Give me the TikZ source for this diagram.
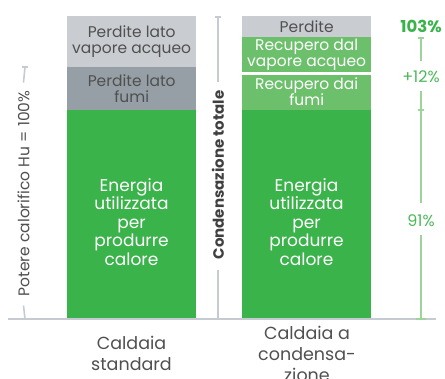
\documentclass[tikz,border=0pt]{standalone}
\usepackage{fontspec}
\setmainfont{Poppins}
\definecolor{gmain}{HTML}{3AB34A}
\definecolor{glight}{HTML}{6CC06B}
\definecolor{grayl}{HTML}{C9CDD2}
\definecolor{grayd}{HTML}{959FA5}
\definecolor{txt}{HTML}{505050}
\definecolor{axis}{HTML}{C5CBD1}
\definecolor{gaxis}{HTML}{9DD49A}
\definecolor{gtxt}{HTML}{4DB85A}
\begin{document}
\begin{tikzpicture}[x=1pt,y=-1pt,
  seg/.style={draw=none,inner sep=0pt,anchor=north west,align=center,font=\fontsize{15.5}{16.5}\selectfont},
  bigtxt/.style={align=center,text=white,font=\fontsize{17}{18.5}\selectfont},
  captxt/.style={align=center,text=txt,font=\fontsize{17.5}{21}\selectfont},
  ax/.style={draw=axis,line width=1.6pt},
  gax/.style={draw=gaxis,line width=1.6pt},
  axlbl/.style={rotate=90,text=txt,font=\fontsize{15.5}{15}\selectfont,inner sep=0pt}]
\useasboundingbox (0,0) rectangle (445,378);
% left bar
\node[seg,fill=grayl,text=txt,minimum width=129pt,minimum height=51pt] (lvap) at (67,16) {Perdite lato\\vapore acqueo};
\node[seg,fill=grayd,text=txt,minimum width=129pt,minimum height=43pt] (lfum) at (67,67) {Perdite lato\\fumi};
\node[seg,fill=gmain,minimum width=129pt,minimum height=208pt] (lgreen) at (67,110) {};
\node[bigtxt] (ltxt) at (131.5,222) {Energia\\utilizzata\\per\\produrre\\calore};
% right bar
\node[seg,fill=grayl,text=txt,minimum width=129pt,minimum height=21pt] (rper) at (242,16) {Perdite};
\node[seg,fill=glight,text=white,minimum width=129pt,minimum height=35pt] (rvap) at (242,37) {Recupero dal\\vapore acqueo};
\node[seg,fill=glight,text=white,minimum width=129pt,minimum height=37pt] (rfum) at (242,73) {Recupero dai\\fumi};
\fill[white] (rvap.south west) rectangle ([yshift=-2pt]rfum.north east);
\node[seg,fill=gmain,minimum width=129pt,minimum height=208pt] (rgreen) at (242,110) {};
\node[bigtxt] (rtxt) at (306.5,222) {Energia\\utilizzata\\per\\produrre\\calore};
% baseline
\coordinate (b0) at (8,319);
\coordinate (b1) at (436,319);
\draw[draw=axis,line width=1.4pt] (b0) -- (b1);
% left axis
\coordinate (la) at (25,67);
\coordinate (lb) at (25,319);
\node[axlbl] (ll) at (23.5,193.5) {Potere calorifico Hu = 100\%};
\draw[ax] (la) -- ([yshift=8pt]ll.east);
\draw[ax] ([xshift=-3pt]la) -- ([xshift=3pt]la);
\draw[ax] ([yshift=-9pt]ll.west) -- (lb);
% middle axis
\coordinate (ma) at (218,17);
\coordinate (mb) at (218,319);
\node[axlbl,font=\fontsize{15}{15}\selectfont\bfseries,text=txt!80!black] (ml) at (218,175) {Condensazione totale};
\draw[ax] (ma) -- ([yshift=8pt]ml.east);
\draw[ax] ([xshift=-3pt]ma) -- ([xshift=3pt]ma);
\draw[ax] ([yshift=-10pt]ml.west) -- (mb);
% right axis
\node[text=gmain,font=\fontsize{16.5}{16}\selectfont\bfseries,inner sep=0pt] (p103) at (421,26) {103\%};
\node[text=gtxt,font=\fontsize{16}{16}\selectfont,inner sep=0pt] (p12) at (421,77) {+12\%};
\node[text=gtxt,font=\fontsize{16}{16}\selectfont,inner sep=0pt] (p91) at (421,221) {91\%};
\coordinate (ra) at (421,38);
\coordinate (rm) at (421,110);
\coordinate (rb) at (421,319);
\draw[gax] (ra) -- ([yshift=10pt]p12.north);
\draw[gax] ([xshift=-3pt]ra) -- ([xshift=3pt]ra);
\draw[gax] ([yshift=-8pt]p12.south) -- ([yshift=12pt]p91.north);
\draw[gax] ([xshift=-3pt]rm) -- ([xshift=3pt]rm);
\draw[gax] ([yshift=-8pt]p91.south) -- (rb);
\draw[gax] ([xshift=-5pt]rb) -- ([xshift=5pt]rb);
% captions
\node[captxt] (c1) at (131.5,353.5) {Caldaia\\standard};
\node[captxt] (c2) at (307,354) {Caldaia a\\condensa-\\zione};
\end{tikzpicture}
\end{document}
